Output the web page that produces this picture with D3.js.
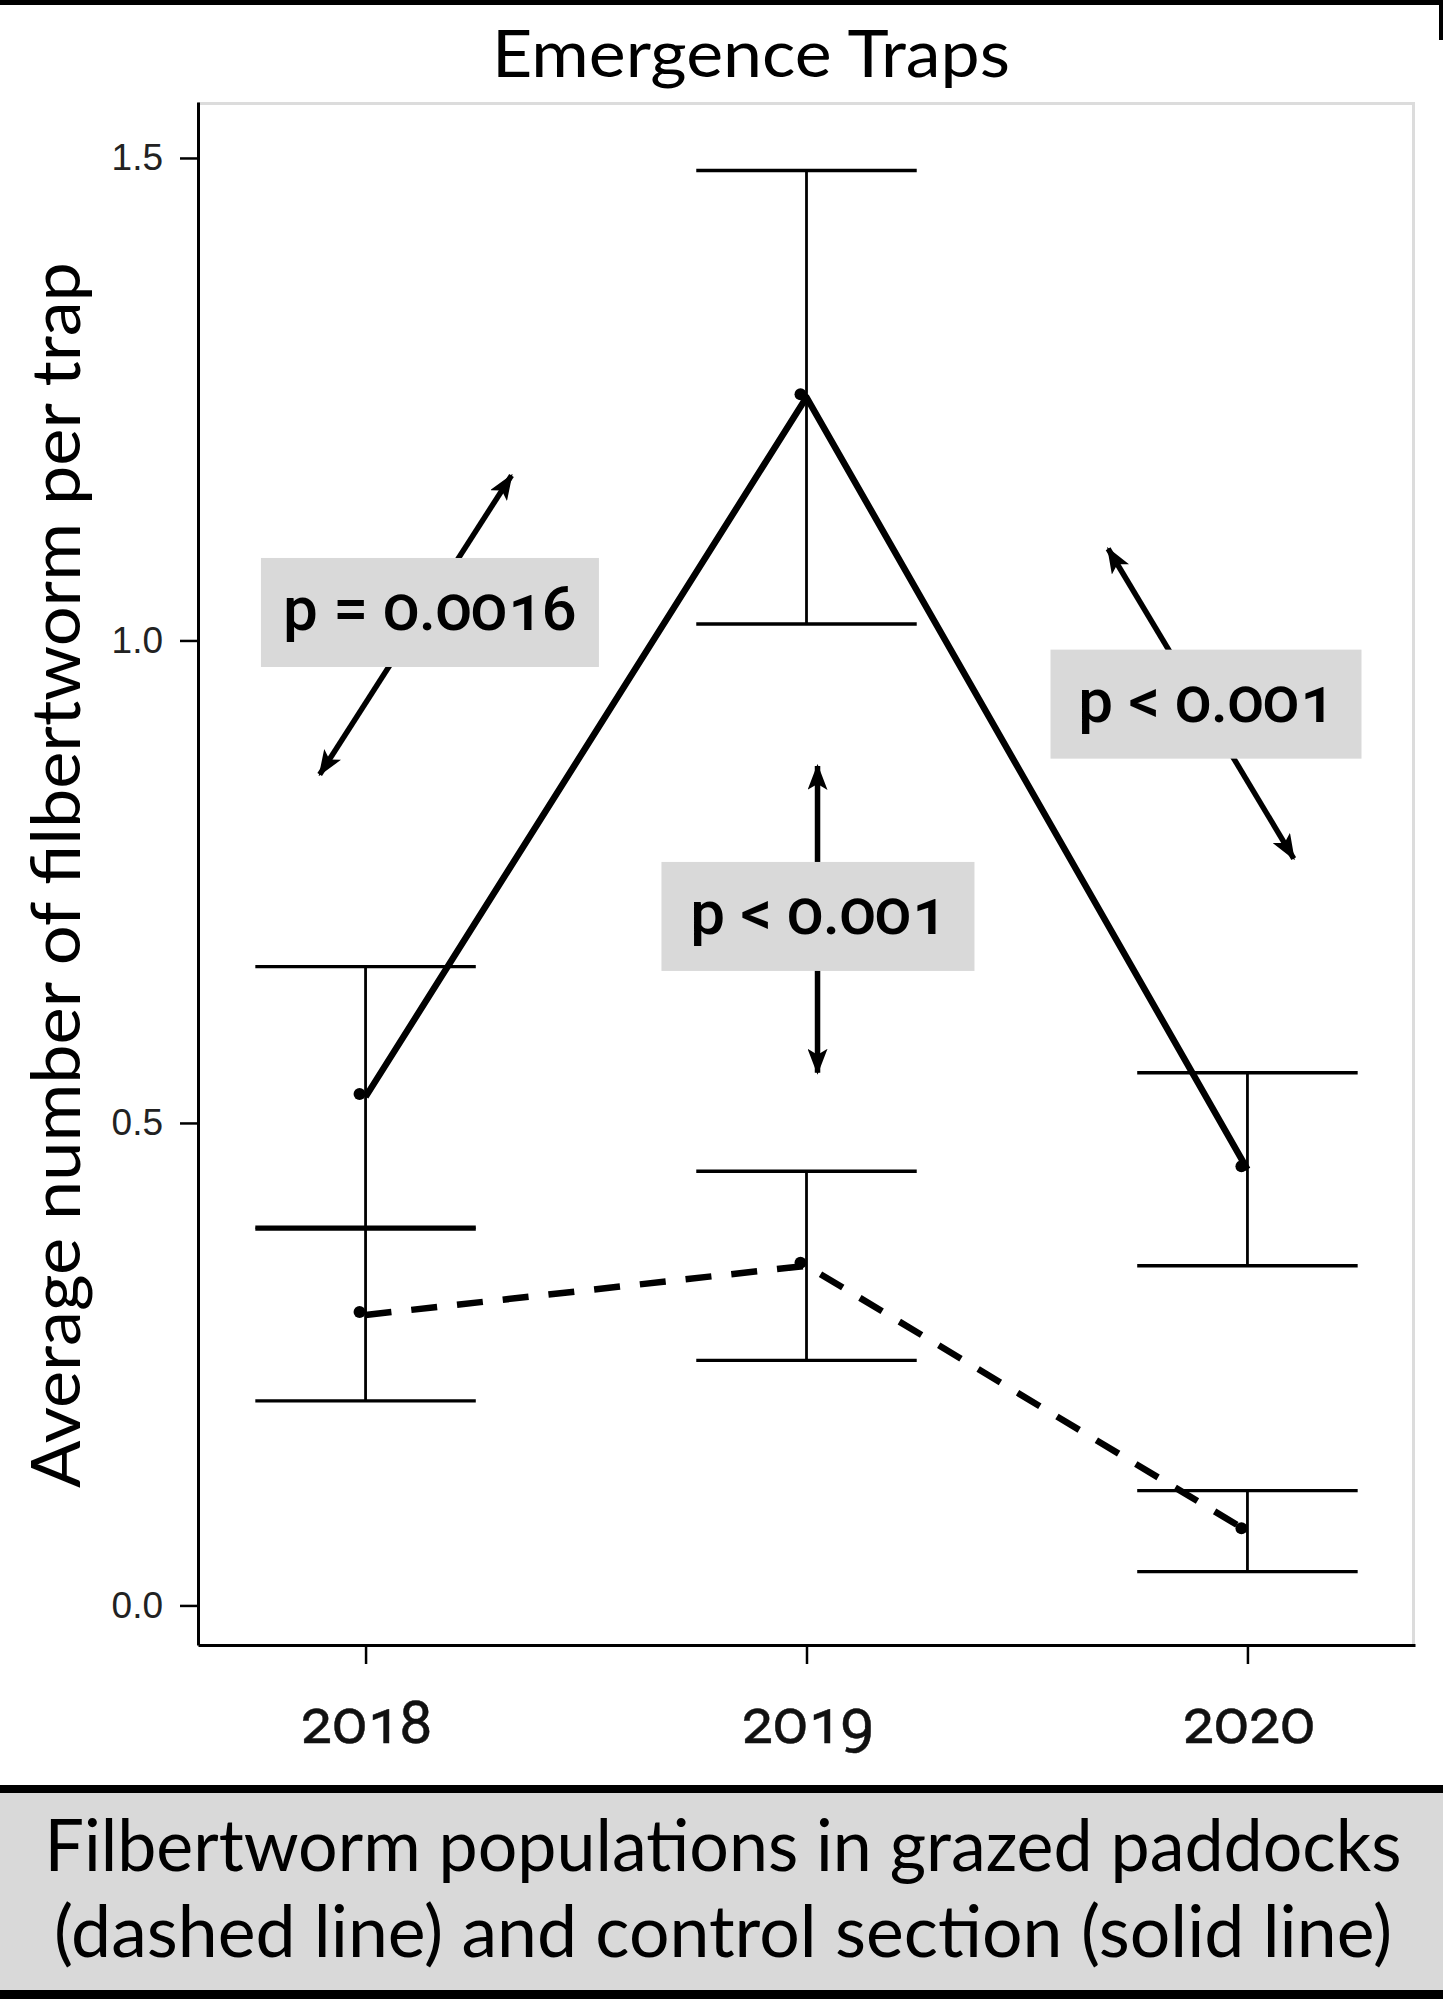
<!DOCTYPE html>
<html>
<head>
<meta charset="utf-8">
<script src="https://cdnjs.cloudflare.com/ajax/libs/d3/7.8.5/d3.min.js"></script>
<style>
  body { margin: 0; background: #fff; }
  svg { display: block; }
  .oldnum { font-variant-numeric: oldstyle-nums; font-feature-settings: "onum" 1; }
</style>
</head>
<body>
<svg id="chart" width="1443" height="2003"></svg>
<script>
// data
var years = ["2018", "2019", "2020"];
var controlMean = [0.527, 1.252, 0.452];   // solid line
var controlErr  = [0.135, 0.235, 0.100];
var grazedMean  = [0.301, 0.352, 0.077];   // dashed line
var grazedErr   = [0.089, 0.098, 0.042];
var yTicks = [0, 0.5, 1.0, 1.5];
var pLabels = ["p = 0.0016", "p < 0.001", "p < 0.001"];
// annotation anchors in data units (x = year index, y = value)
var noteBox   = [[0.146, 1.029], [1.026, 0.714], [1.906, 0.934]];
var noteArrow = [[[0.331, 1.171], [-0.104, 0.861]],
                 [[1.025, 0.870], [1.025, 0.552]],
                 [[1.684, 1.095], [2.105, 0.774]]];

var svg = d3.select("#chart");
var W = 1443, H = 2003;
var panel = {left: 198, right: 1415, top: 102, bottom: 1645};
var numFont = "Roboto, 'Noto Sans', sans-serif";

var x = d3.scaleLinear().domain([-0.38, 2.38]).range([panel.left, panel.right]);
var y = d3.scaleLinear().domain([-0.041, 1.558]).range([panel.bottom, panel.top]);

// frame lines at the very top
svg.append("rect").attr("x", 0).attr("y", 0).attr("width", W).attr("height", 5).attr("fill", "#000");
svg.append("rect").attr("x", W - 4).attr("y", 0).attr("width", 4).attr("height", 40).attr("fill", "#000");

// title
svg.append("text")
  .attr("x", 751).attr("y", 77)
  .attr("text-anchor", "middle")
  .attr("font-family", "Lato, 'Open Sans', sans-serif")
  .attr("font-size", 66)
  .attr("textLength", 518).attr("lengthAdjust", "spacingAndGlyphs")
  .text("Emergence Traps");

// light panel border (top, right)
svg.append("path")
  .attr("d", "M" + panel.left + "," + (panel.top + 1.5) + "H" + (panel.right - 1.5) + "V" + panel.bottom)
  .attr("fill", "none").attr("stroke", "#dcdcdc").attr("stroke-width", 3);

var g = svg.append("g");

// y axis
var yAxis = g.append("g")
  .attr("transform", "translate(" + panel.left + ",0)")
  .call(d3.axisLeft(y).tickValues(yTicks).tickFormat(d3.format(".1f")).tickSize(18).tickSizeOuter(0).tickPadding(17));
yAxis.select(".domain").attr("stroke-width", 3);
yAxis.selectAll(".tick line").attr("stroke-width", 2.5);
yAxis.selectAll("text")
  .attr("font-family", "'Liberation Sans', Arial, sans-serif")
  .attr("font-size", 37).attr("fill", "#222");

// x axis
var xAxis = g.append("g")
  .attr("transform", "translate(0," + panel.bottom + ")")
  .call(d3.axisBottom(x).tickValues([0, 1, 2]).tickFormat(function(i) { return years[i]; })
    .tickSize(19).tickSizeOuter(0));
xAxis.select(".domain").attr("stroke-width", 3);
xAxis.selectAll(".tick line").attr("stroke-width", 2.5);
xAxis.selectAll("text")
  .attr("class", "oldnum")
  .attr("y", 98).attr("dy", 0)
  .attr("font-family", numFont)
  .attr("font-size", 59).attr("fill", "#111")
  .attr("stroke", "#111").attr("stroke-width", 0.5);

// error bars
function errorBars(means, errs, cls) {
  var data = means.map(function(m, i) { return {i: i, lo: m - errs[i], hi: m + errs[i]}; });
  var eb = g.append("g").attr("class", cls);
  eb.selectAll("line.v").data(data).enter().append("line")
    .attr("x1", function(d) { return x(d.i); }).attr("x2", function(d) { return x(d.i); })
    .attr("y1", function(d) { return y(d.lo); }).attr("y2", function(d) { return y(d.hi); })
    .attr("stroke", "#000").attr("stroke-width", 2.8);
  ["lo", "hi"].forEach(function(k) {
    eb.selectAll("line.c" + k).data(data).enter().append("line")
      .attr("x1", function(d) { return x(d.i - 0.25); }).attr("x2", function(d) { return x(d.i + 0.25); })
      .attr("y1", function(d) { return y(d[k]); }).attr("y2", function(d) { return y(d[k]); })
      .attr("stroke", "#000").attr("stroke-width", 3.4);
  });
}
errorBars(controlMean, controlErr, "eb-control");
errorBars(grazedMean, grazedErr, "eb-grazed");

var line = d3.line().x(function(d, i) { return x(i); }).y(function(d) { return y(d); });

g.append("path").datum(controlMean)
  .attr("d", line).attr("fill", "none")
  .attr("stroke", "#000").attr("stroke-width", 6.5).attr("stroke-linejoin", "round");
g.append("path").datum(grazedMean)
  .attr("d", line).attr("fill", "none")
  .attr("stroke", "#000").attr("stroke-width", 6.5).attr("stroke-dasharray", "26,20");

[controlMean, grazedMean].forEach(function(s) {
  g.selectAll(null).data(s).enter().append("circle")
    .attr("cx", function(d, i) { return x(i) - 6; })
    .attr("cy", function(d) { return y(d) - 3; })
    .attr("r", 6).attr("fill", "#000");
});

// p-value annotations
var defs = svg.append("defs");
defs.append("marker")
  .attr("id", "head").attr("viewBox", "0 0 26 20")
  .attr("refX", 24).attr("refY", 10)
  .attr("markerUnits", "userSpaceOnUse")
  .attr("markerWidth", 26).attr("markerHeight", 20)
  .attr("orient", "auto-start-reverse")
  .append("path").attr("d", "M0,0L26,10L0,20L6,10Z").attr("fill", "#000");

noteArrow.forEach(function(a) {
  g.append("line")
    .attr("x1", x(a[0][0])).attr("y1", y(a[0][1]))
    .attr("x2", x(a[1][0])).attr("y2", y(a[1][1]))
    .attr("stroke", "#000").attr("stroke-width", 5.5)
    .attr("marker-start", "url(#head)").attr("marker-end", "url(#head)");
});

var boxW = [338, 313, 311], boxH = 109;
noteBox.forEach(function(b, k) {
  var cx = x(b[0]), cy = y(b[1]);
  g.append("rect")
    .attr("x", cx - boxW[k] / 2).attr("y", cy - boxH / 2)
    .attr("width", boxW[k]).attr("height", boxH)
    .attr("fill", "#d9d9d9");
  g.append("text")
    .attr("class", "oldnum")
    .attr("x", cx).attr("y", cy + 18)
    .attr("text-anchor", "middle")
    .attr("font-family", numFont)
    .attr("font-weight", 500)
    .attr("font-size", 62)
    .text(pLabels[k]);
});

// y axis title
svg.append("text")
  .attr("transform", "translate(80,875) rotate(-90)")
  .attr("text-anchor", "middle")
  .attr("font-family", "Lato, 'Open Sans', sans-serif")
  .attr("font-size", 68)
  .attr("textLength", 1226).attr("lengthAdjust", "spacingAndGlyphs")
  .text("Average number of filbertworm per trap");

// caption band
svg.append("rect").attr("x", 0).attr("y", 1785).attr("width", W).attr("height", 8).attr("fill", "#000");
svg.append("rect").attr("x", 0).attr("y", 1793).attr("width", W).attr("height", 197).attr("fill", "#d9d9d9");
svg.append("rect").attr("x", 0).attr("y", 1990).attr("width", W).attr("height", 9).attr("fill", "#000");
svg.append("text")
  .attr("x", 723).attr("y", 1871).attr("text-anchor", "middle")
  .attr("font-family", "Lato, 'Open Sans', sans-serif").attr("font-size", 72)
  .attr("textLength", 1357).attr("lengthAdjust", "spacingAndGlyphs")
  .text("Filbertworm populations in grazed paddocks");
svg.append("text")
  .attr("x", 723).attr("y", 1957).attr("text-anchor", "middle")
  .attr("font-family", "Lato, 'Open Sans', sans-serif").attr("font-size", 72)
  .attr("textLength", 1338).attr("lengthAdjust", "spacingAndGlyphs")
  .text("(dashed line) and control section (solid line)");
</script>
</body>
</html>
